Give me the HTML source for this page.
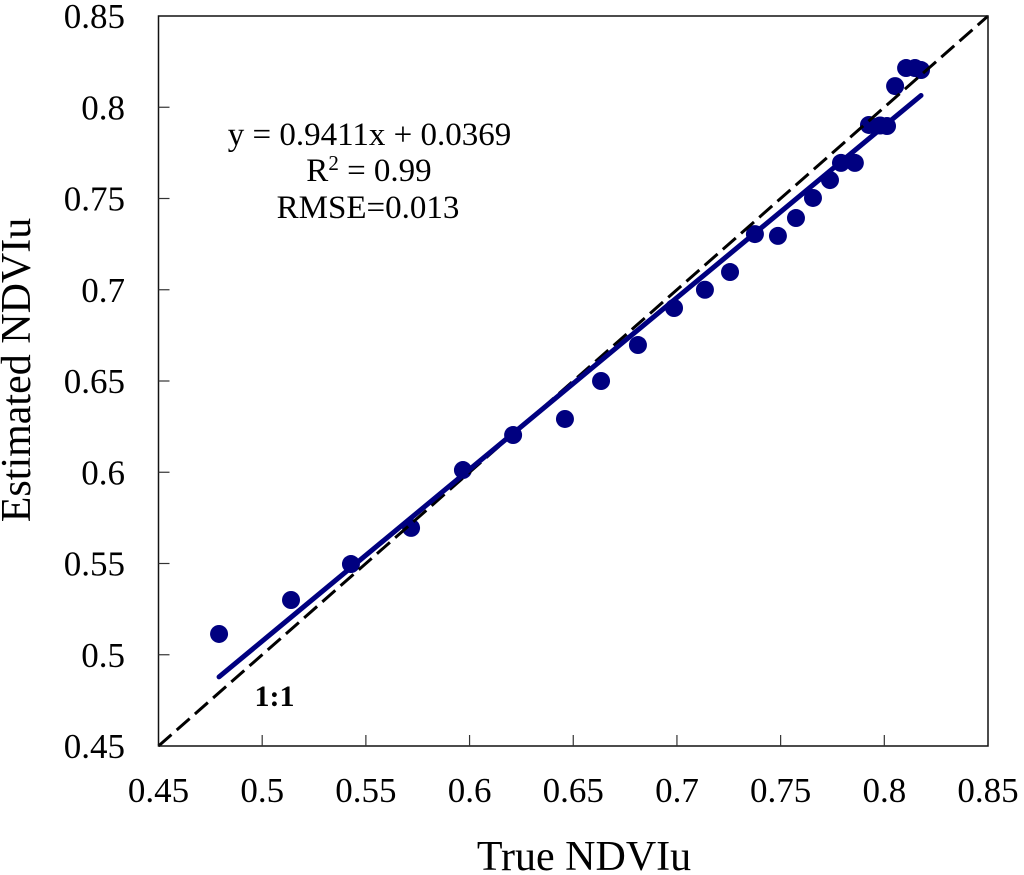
<!DOCTYPE html>
<html>
<head>
<meta charset="utf-8">
<title>NDVIu scatter chart</title>
<style>
html,body{margin:0;padding:0;background:#fff;}
svg{display:block;}
text{font-family:"Liberation Serif",serif;fill:#000;}
</style>
</head>
<body>
<svg id="chart" width="1024" height="875" viewBox="0 0 1024 875" xmlns="http://www.w3.org/2000/svg">
<g id="marks"></g>
<text x="584" y="870" font-size="42" text-anchor="middle">True NDVIu</text>
<text transform="translate(30,370) rotate(-90)" font-size="42" text-anchor="middle">Estimated NDVIu</text>
<text x="369.5" y="145" font-size="33" text-anchor="middle">y = 0.9411x + 0.0369</text>
<text x="369" y="181" font-size="33" text-anchor="middle">R<tspan font-size="21" dy="-11">2</tspan><tspan dy="11"> = 0.99</tspan></text>
<text x="368" y="218" font-size="33" text-anchor="middle">RMSE=0.013</text>
<text x="274.5" y="706" font-size="30" font-weight="bold" text-anchor="middle">1:1</text>
</svg>
<script>
const xTicks = [0.45, 0.5, 0.55, 0.6, 0.65, 0.7, 0.75, 0.8, 0.85];
const yTicks = [0.45, 0.5, 0.55, 0.6, 0.65, 0.7, 0.75, 0.8, 0.85];
const trueValues = [0.4792, 0.5139, 0.5428, 0.5718, 0.5968, 0.621, 0.646, 0.6634, 0.6812, 0.6986, 0.7135, 0.7256, 0.7376, 0.7487, 0.7574, 0.7656, 0.7738, 0.7791, 0.7858, 0.7926, 0.798, 0.8013, 0.8052, 0.8105, 0.8148, 0.8177];
const estimatedValues = [0.5114, 0.53, 0.5497, 0.5695, 0.6012, 0.6204, 0.6292, 0.65, 0.6697, 0.69, 0.7, 0.7097, 0.7305, 0.7295, 0.7393, 0.7503, 0.7601, 0.7695, 0.7695, 0.7903, 0.79, 0.7897, 0.8116, 0.8215, 0.8215, 0.8204];
const fitSlope = 0.9411;
const fitIntercept = 0.0369;
const fitRange = [0.4792, 0.8177];
const identityRange = [0.45, 0.85];

const NS = 'http://www.w3.org/2000/svg';
const plot = {left: 158.5, right: 988, top: 16, bottom: 746};
const domain = [0.45, 0.85];
function xScale(v) { return plot.left + (v - domain[0]) / (domain[1] - domain[0]) * (plot.right - plot.left); }
function yScale(v) { return plot.bottom - (v - domain[0]) / (domain[1] - domain[0]) * (plot.bottom - plot.top); }
function make(tag, attrs, parent) {
  const el = document.createElementNS(NS, tag);
  for (const k in attrs) el.setAttribute(k, attrs[k]);
  parent.appendChild(el);
  return el;
}
const root = document.getElementById('marks');

// dots
trueValues.forEach(function (v, i) {
  const dot = make('circle', {cx: xScale(v), cy: yScale(estimatedValues[i]), r: 9, fill: '#000080'}, root);
  
  
});

// 1:1 line
const identity = make('line', {x1: xScale(identityRange[0]), y1: yScale(identityRange[0]), x2: xScale(identityRange[1]), y2: yScale(identityRange[1]), stroke: '#000', 'stroke-width': 3, 'stroke-dasharray': '17.25 7'}, root);



// fit line
const fit = make('line', {x1: xScale(fitRange[0]), y1: yScale(fitSlope * fitRange[0] + fitIntercept), x2: xScale(fitRange[1]), y2: yScale(fitSlope * fitRange[1] + fitIntercept), stroke: '#000080', 'stroke-width': 5, 'stroke-linecap': 'round'}, root);



// plot frame
const frame = make('rect', {x: plot.left, y: plot.top, width: plot.right - plot.left, height: plot.bottom - plot.top, fill: 'none', stroke: '#111', 'stroke-width': 1.5}, root);



// x ticks
xTicks.forEach(function (v) {
  const px = xScale(v);
  const isEnd = v === domain[0] || v === domain[1];
  if (!isEnd) {
    const t = make('line', {x1: px, y1: plot.bottom, x2: px, y2: plot.bottom - 11, stroke: '#333', 'stroke-width': 1.2}, root);
    
    
  }
  const label = make('text', {x: px, y: 802, 'font-size': 35, 'text-anchor': 'middle'}, root);
  label.textContent = String(v);
  
  
});

// y ticks
yTicks.forEach(function (v) {
  const py = yScale(v);
  const isEnd = v === domain[0] || v === domain[1];
  if (!isEnd) {
    const t = make('line', {x1: plot.left, y1: py, x2: plot.left + 11, y2: py, stroke: '#333', 'stroke-width': 1.2}, root);
    
    
  }
  const label = make('text', {x: 125, y: py + 12, 'font-size': 35, 'text-anchor': 'end'}, root);
  label.textContent = String(v);
  
  
});
</script>
</body>
</html>
